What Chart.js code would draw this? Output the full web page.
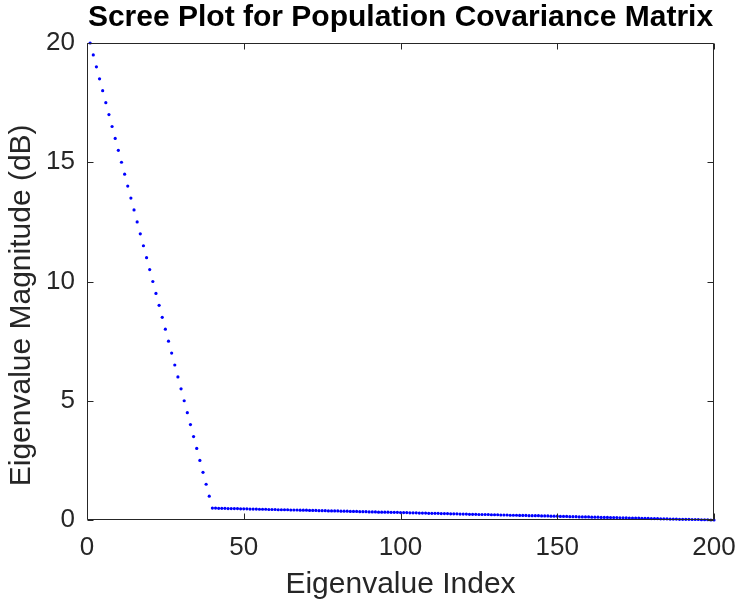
<!DOCTYPE html>
<html>
<head>
<meta charset="utf-8">
<script src="https://cdn.jsdelivr.net/npm/chart.js@4.4.0/dist/chart.umd.min.js"></script>
<style>
    html, body { margin: 0; padding: 0; background: #ffffff; }
    #wrap { width: 738px; height: 603px; }
</style>
</head>
<body>
<div id="wrap"><canvas id="scree"></canvas></div>
<script>
// --- Chart data ---
const chartTitle = 'Scree Plot for Population Covariance Matrix';
const xAxisTitle = 'Eigenvalue Index';
// trailing spaces push the rotated label down a bit, like in the reference
const yAxisTitle = 'Eigenvalue Magnitude (dB)\u00A0\u00A0\u00A0\u00A0\u00A0\u2009';

const xTicks = [0, 50, 100, 150, 200];
const yTicks = [0, 5, 10, 15, 20];

// eigenvalues 1..40 : steep part of the scree
const steepValues = [
    20, 19.5, 19, 18.5, 18, 17.5, 17, 16.5, 16, 15.5,
    15, 14.5, 14, 13.5, 13, 12.5, 12, 11.5, 11, 10.5,
    10, 9.5, 9, 8.5, 8, 7.5, 7, 6.5, 6, 5.5,
    5, 4.5, 4, 3.5, 3, 2.5, 2, 1.5, 1, 0.5
];

// eigenvalues 41..200 : noise floor
const floorValues = [
    0.50, 0.49, 0.49, 0.49, 0.48, 0.48, 0.48, 0.48,
    0.47, 0.47, 0.47, 0.46, 0.46, 0.46, 0.45, 0.45,
    0.45, 0.44, 0.44, 0.44, 0.43, 0.43, 0.43, 0.43,
    0.42, 0.42, 0.42, 0.41, 0.41, 0.41, 0.40, 0.40,
    0.40, 0.39, 0.39, 0.39, 0.38, 0.38, 0.38, 0.38,
    0.37, 0.37, 0.37, 0.36, 0.36, 0.36, 0.35, 0.35,
    0.35, 0.34, 0.34, 0.34, 0.33, 0.33, 0.33, 0.33,
    0.32, 0.32, 0.32, 0.31, 0.31, 0.31, 0.30, 0.30,
    0.30, 0.29, 0.29, 0.29, 0.28, 0.28, 0.28, 0.28,
    0.27, 0.27, 0.27, 0.26, 0.26, 0.26, 0.25, 0.25,
    0.25, 0.24, 0.24, 0.24, 0.23, 0.23, 0.23, 0.23,
    0.22, 0.22, 0.22, 0.21, 0.21, 0.21, 0.20, 0.20,
    0.20, 0.19, 0.19, 0.19, 0.18, 0.18, 0.18, 0.18,
    0.17, 0.17, 0.17, 0.16, 0.16, 0.16, 0.15, 0.15,
    0.15, 0.14, 0.14, 0.14, 0.13, 0.13, 0.13, 0.13,
    0.12, 0.12, 0.12, 0.11, 0.11, 0.11, 0.10, 0.10,
    0.10, 0.09, 0.09, 0.09, 0.08, 0.08, 0.08, 0.08,
    0.07, 0.07, 0.07, 0.06, 0.06, 0.06, 0.05, 0.05,
    0.05, 0.04, 0.04, 0.04, 0.03, 0.03, 0.03, 0.03,
    0.02, 0.02, 0.02, 0.01, 0.01, 0.01, 0.00, 0.00
];

const eigenValues = steepValues.concat(floorValues);

// --- Styles ---
const FONT = "'Liberation Sans', Arial, Helvetica, sans-serif";
const AXIS_COLOR = '#262626';
const TICK_LEN = 6;

// Draws the MATLAB style box and the inward tick marks on all four sides
const boxPlugin = {
    id: 'matlabBox',
    afterDatasetsDraw(chart) {
        const { ctx, chartArea: a, scales } = chart;
        ctx.save();
        ctx.strokeStyle = AXIS_COLOR;
        ctx.lineWidth = 1;
        const L = Math.round(a.left) + 0.5;
        const R = Math.round(a.right) - 0.5;
        const T = Math.round(a.top) + 0.5;
        const B = Math.round(a.bottom) - 0.5;
        ctx.beginPath();
        ctx.rect(L, T, R - L, B - T);
        xTicks.forEach(v => {
            const px = Math.round(scales.x.getPixelForValue(v)) + 0.5;
            ctx.moveTo(px, B); ctx.lineTo(px, B - TICK_LEN);
            ctx.moveTo(px, T); ctx.lineTo(px, T + TICK_LEN);
        });
        yTicks.forEach(v => {
            const py = Math.round(scales.y.getPixelForValue(v)) + 0.5;
            ctx.moveTo(L, py); ctx.lineTo(L + TICK_LEN, py);
            ctx.moveTo(R, py); ctx.lineTo(R - TICK_LEN, py);
        });
        ctx.stroke();
        ctx.restore();
    }
};

const points = eigenValues.map((v, i) => ({ x: i + 1, y: v }));

new Chart(document.getElementById('scree'), {
    type: 'scatter',
    data: {
        datasets: [{
            data: points,
            showLine: false,
            clip: false,
            pointRadius: 1.6,
            pointHoverRadius: 1.6,
            pointBorderWidth: 0,
            pointBackgroundColor: '#0000ff',
            borderColor: '#0000ff'
        }]
    },
    options: {
        responsive: true,
        maintainAspectRatio: false,
        animation: false,
        layout: { padding: { left: 0, right: 24, top: 0, bottom: 0 } },
        plugins: {
            legend: { display: false },
            tooltip: { enabled: false },
            title: {
                display: true,
                text: chartTitle,
                fullSize: false,
                color: '#000000',
                font: { family: FONT, size: 30, weight: 'bold', lineHeight: 1.2 },
                padding: { top: 0, bottom: 7 }
            }
        },
        scales: {
            x: {
                type: 'linear',
                min: 0,
                max: 200,
                afterFit(scale) {
                    scale.height = 83;
                    scale.paddingLeft = 0;
                    scale.paddingRight = 0;
                },
                afterBuildTicks(scale) { scale.ticks = xTicks.map(v => ({ value: v })); },
                grid: { display: false, drawTicks: false },
                border: { display: false },
                ticks: {
                    color: AXIS_COLOR,
                    padding: 12,
                    maxRotation: 0,
                    font: { family: FONT, size: 26 }
                },
                title: {
                    display: true,
                    text: xAxisTitle,
                    color: AXIS_COLOR,
                    font: { family: FONT, size: 30, lineHeight: 1.2 },
                    padding: { top: 0, bottom: 0 }
                }
            },
            y: {
                type: 'linear',
                min: 0,
                max: 20,
                afterFit(scale) {
                    scale.width = 87;
                    scale.paddingTop = 0;
                    scale.paddingBottom = 0;
                },
                afterBuildTicks(scale) { scale.ticks = yTicks.map(v => ({ value: v })); },
                grid: { display: false, drawTicks: false },
                border: { display: false },
                ticks: {
                    color: AXIS_COLOR,
                    padding: 12,
                    font: { family: FONT, size: 26 }
                },
                title: {
                    display: true,
                    text: yAxisTitle,
                    color: AXIS_COLOR,
                    font: { family: FONT, size: 30, lineHeight: 1.2 },
                    padding: { top: 4, bottom: 0 }
                }
            }
        }
    },
    plugins: [boxPlugin]
});
</script>
</body>
</html>
